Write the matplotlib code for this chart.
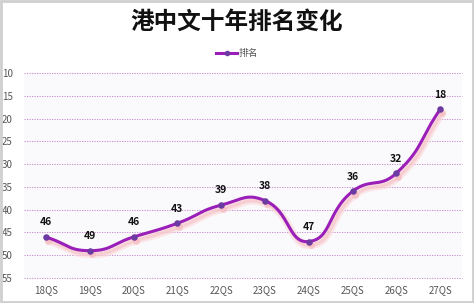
import numpy as np
import matplotlib
matplotlib.use("Agg")
import matplotlib.pyplot as plt
from matplotlib.patches import Rectangle
from matplotlib.lines import Line2D

plt.rcParams['font.family'] = ['Noto Sans CJK SC', 'DejaVu Sans']

title = "港中文十年排名变化"
series_name = "排名"
categories = ["18QS", "19QS", "20QS", "21QS", "22QS", "23QS", "24QS", "25QS", "26QS", "27QS"]
ranks = [46, 49, 46, 43, 39, 38, 47, 36, 32, 18]
yticks = [10, 15, 20, 25, 30, 35, 40, 45, 50, 55]

W, H = 474, 303
X0, X1, Y0, Y1 = 24, 462, 73, 278  # plot box in pixels


def smooth(xs, ys, sx_scale, sy_scale, n=30, k=0.5):
    # echarts-like smoothing computed in pixel space
    P = np.column_stack([np.asarray(xs, float) * sx_scale, np.asarray(ys, float) * sy_scale])
    m = len(P)
    cps = []
    for i in range(m):
        prev = P[max(i - 1, 0)]
        nxt = P[min(i + 1, m - 1)]
        p = P[i]
        v = (nxt - prev) * k
        d0 = np.linalg.norm(p - prev)
        d1 = np.linalg.norm(p - nxt)
        tot = d0 + d1
        r = d0 / tot if tot > 0 else 0.5
        cps.append((p - v * r, p + v * (1 - r)))
    out = []
    for i in range(m - 1):
        p1, p2 = P[i], P[i + 1]
        c1 = cps[i][1]
        c2 = cps[i + 1][0]
        t = np.linspace(0, 1, n)[:, None]
        b = (1 - t) ** 3 * p1 + 3 * (1 - t) ** 2 * t * c1 + 3 * (1 - t) * t ** 2 * c2 + t ** 3 * p2
        if i > 0:
            b = b[1:]
        out.append(b)
    out = np.vstack(out)
    return out[:, 0] / sx_scale, out[:, 1] / sy_scale


fig = plt.figure(figsize=(W / 100, H / 100), dpi=100)
fig.patch.set_facecolor('white')
fig.patches.append(Rectangle((0.002, 0.003), 0.996, 0.994, transform=fig.transFigure,
                             fill=False, edgecolor='#cfcfcf', linewidth=2))

ax = fig.add_axes([X0 / W, 1 - Y1 / H, (X1 - X0) / W, (Y1 - Y0) / H])
ax.set_facecolor('#faf9fc')
x = np.arange(len(categories))
ax.set_xlim(-0.5, len(categories) - 0.5)
ax.set_ylim(55, 10)
ax.set_yticks(yticks)
ax.set_xticks(x)
ax.set_xticklabels(categories, fontsize=7, color='#555555')
ax.set_yticklabels([str(v) for v in yticks], fontsize=7, color='#555555')
ax.tick_params(axis='both', length=0, pad=5)
ax.tick_params(axis='y', pad=8)
for s in ax.spines.values():
    s.set_visible(False)
for v in yticks:
    ax.axhline(v, color='#c080cc', linestyle=(0, (1.5, 1.5)), linewidth=0.6, zorder=1, clip_on=False)

px_per_x = (X1 - X0) / len(categories)
px_per_y = (Y1 - Y0) / (55 - 10)
sx, sy = smooth(x, ranks, px_per_x, px_per_y)
dx, dy = 0.05, 0.8
# shadow
ax.plot(sx + dx, sy + dy, color='#fbd8da', linewidth=5.5, alpha=0.6,
        solid_capstyle='round', zorder=2)
ax.plot(sx + dx, sy + dy, color='#f6c0c4', linewidth=2.5, alpha=0.6,
        solid_capstyle='round', zorder=2)
ax.scatter(x + dx, np.array(ranks) + dy, s=24, color='#f6bcc0', alpha=0.7, zorder=2, linewidths=0)
# main line
ax.plot(sx, sy, color='#9a1fb8', linewidth=2.2, solid_capstyle='round', zorder=3)
ax.scatter(x, ranks, s=22, color='#6c3aa0', zorder=4, linewidths=0)
for xi, r in zip(x, ranks):
    ax.annotate(str(r), (xi, r), xytext=(0, 7), textcoords='offset points', ha='center',
                va='bottom', fontsize=7.5, fontweight='bold', color='#111111', zorder=5)

fig.text(0.5, 1 - 22 / H, title, ha='center', va='center', fontsize=17, fontweight='heavy', color='#111111')

# legend
lx0, lx1, ly = 216 / W, 237 / W, 1 - 53 / H
fig.add_artist(Line2D([lx0, lx1], [ly, ly], transform=fig.transFigure, color='#9a1fb8', linewidth=2.2))
fig.add_artist(Line2D([(lx0 + lx1) / 2], [ly], transform=fig.transFigure, marker='o', markersize=4,
                      color='#6c3aa0', markeredgewidth=0))
fig.text(239 / W, ly, series_name, ha='left', va='center', fontsize=7, color='#555555')

fig.savefig('out.png', dpi=100)
